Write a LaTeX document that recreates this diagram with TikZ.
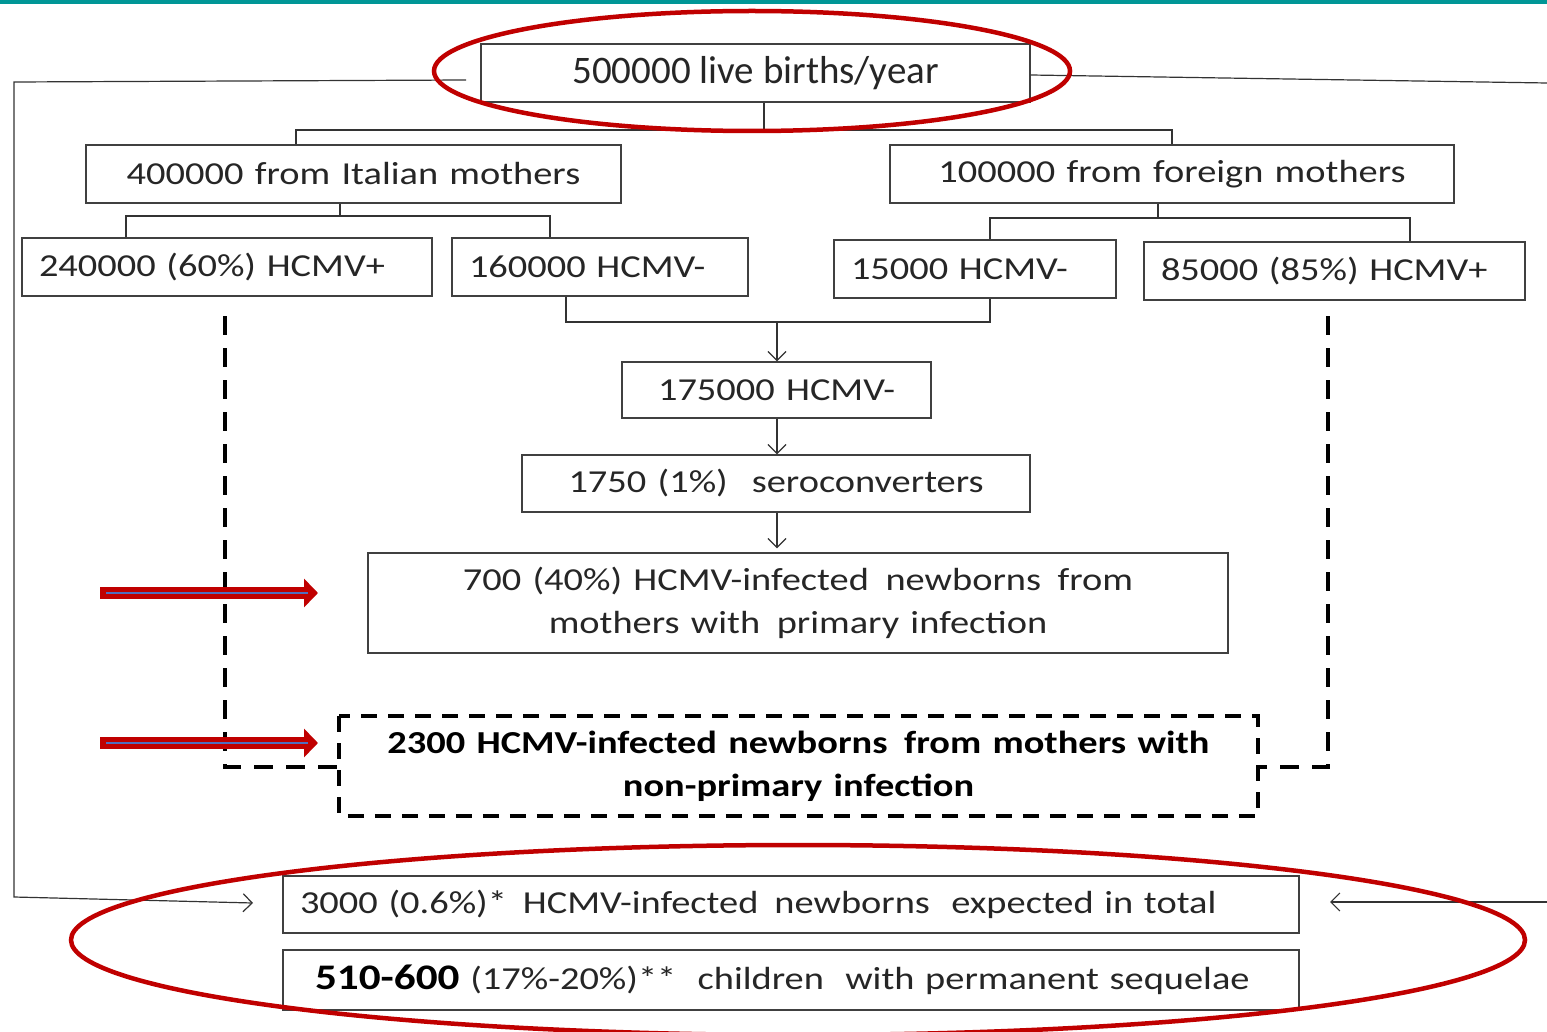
\documentclass[tikz,border=0pt]{standalone}
\usepackage{fontspec}
\setmainfont{Carlito}
\newfontfamily\wide[FakeStretch=1.2,WordSpace=1.3]{Carlito}
\usetikzlibrary{arrows.meta}
\definecolor{dkred}{RGB}{192,0,0}
\definecolor{teal2}{RGB}{0,150,150}
\definecolor{txt}{RGB}{38,38,38}
\definecolor{bluel}{RGB}{80,110,190}
\tikzset{
  box/.style={draw=black!75, line width=1.4pt, inner sep=0pt, text=txt,
    font=\wide\fontsize{32}{43}\selectfont},
  lbox/.style={box, inner xsep=17pt, text width=#1, align=left},
  conn/.style={draw=black!80, line width=1.2pt},
  arr/.style={conn, -{Straight Barb[length=9pt,width=18pt,line width=1.2pt]}},
  dashline/.style={draw=black, line width=4pt, dash pattern=on 19pt off 13pt},
  redell/.style={draw=dkred, line width=4.5pt},
  redarrow/.style={draw=dkred, line width=12pt, -{Triangle[length=14pt,width=28pt]}},
}
\begin{document}
\begin{tikzpicture}[x=1pt,y=-1pt]
\clip (0,0) rectangle (1547,1032);
\useasboundingbox (0,0) rectangle (1547,1032);
\fill[white] (0,0) rectangle (1547,1032);
\fill[teal2] (0,0) rectangle (1547,4);

% boxes
\node[box, minimum width=549pt, minimum height=58pt, font=\fontsize{39}{46}\selectfont] (A) at (755.5,73) {\raisebox{-2pt}{500000 live births/year}};
\node[box, minimum width=535pt, minimum height=58pt] (B) at (353.5,174) {400000 from Italian mothers};
\node[box, minimum width=564pt, minimum height=58pt] (C) at (1172,174) {100000 from foreign mothers};
\node[lbox=376pt, minimum width=410pt, minimum height=58pt] (D) at (227,267) {\mbox{240000 (60\%) HCMV+}};
\node[lbox=262pt, minimum width=296pt, minimum height=58pt] (E) at (600,267) {\mbox{160000 HCMV-}};
\node[lbox=248pt, minimum width=282pt, minimum height=58pt] (F) at (975,269) {\mbox{15000 HCMV-}};
\node[lbox=347pt, minimum width=381pt, minimum height=58pt] (G) at (1334.5,271) {\mbox{85000 (85\%) HCMV+}};
\node[box, minimum width=309pt, minimum height=56pt] (H) at (776.5,390) {175000 HCMV-};
\node[box, minimum width=508pt, minimum height=57pt] (I) at (776,483.5) {1750 (1\%)\hspace{24pt}seroconverters};
\node[box, minimum width=860pt, minimum height=100pt, align=center] (J) at (798,603) {700 (40\%) HCMV-infected\, newborns\, from\\ mothers with\, primary infection};
\node[box, draw=none, minimum width=917pt, minimum height=98pt, align=center, text=black, font=\wide\bfseries\fontsize{32}{43}\selectfont] (K) at (798.5,766) {2300 HCMV-infected newborns\, from mothers with\\non-primary infection};
\draw[dashline, dash pattern=on 16pt off 11pt] (K.north west) rectangle (K.south east);
\node[lbox=982pt, minimum width=1016pt, minimum height=57pt] (L) at (791,904.5) {\mbox{3000 (0.6\%)*\, HCMV-infected\, newborns\, \,expected in total}};
\node[lbox=952pt, inner xsep=32pt, minimum width=1016pt, minimum height=60pt] (M) at (791,980) {\mbox{{\bfseries\color{black}\fontsize{36}{40}\selectfont 510-600} (17\%-20\%)**\, \,children\, \,with permanent sequelae}};

% tree connectors
\draw[conn] (A.south -| 764,0) -- (764,130);
\draw[conn] (B.north -| 296,0) -- (296,130) -- (1172,130) -- (C.north -| 1172,0);
\draw[conn] (B.south -| 340,0) -- (340,216);
\draw[conn] (D.north -| 126,0) -- (126,216) -- (550,216) -- (E.north -| 550,0);
\draw[conn] (C.south -| 1158,0) -- (1158,218);
\draw[conn] (F.north -| 990,0) -- (990,218) -- (1410,218) -- (G.north -| 1410,0);
\draw[conn] (E.south -| 566,0) -- (566,322) -- (990,322) -- (F.south -| 990,0);
\coordinate (m1) at (777,322);
\draw[arr] (m1) -- (H.north -| 777,0);
\draw[arr] (H.south -| 777,0) -- (I.north -| 777,0);
\draw[arr] (I.south -| 777,0) -- ([yshift=4pt]J.north -| 777,0);

% side connectors
\coordinate (lstart) at (466,80);
\coordinate (lend) at (253,903);
\draw[arr] (lstart) -- (14,82) -- (14,897) -- (lend);
\coordinate (rstart) at (1547,83);
\draw[conn] (A.east |- 0,75) -- (rstart);
\coordinate (rin) at (1547,902);
\coordinate (rend) at (1330,902);
\draw[arr] (rin) -- (rend);

% dashed connectors
\draw[dashline] (225,316) -- (225,767) -- (K.west |- 0,767);
\draw[dashline] (1328,316) -- (1328,767) -- (K.east |- 0,767);

% red arrows
\coordinate (ra1s) at (100,593); \coordinate (ra1e) at (318,593);
\coordinate (ra2s) at (100,743); \coordinate (ra2e) at (318,743);
\draw[redarrow] (ra1s) -- (ra1e);
\draw[redarrow] (ra2s) -- (ra2e);
\draw[bluel, line width=2pt] (106,593) -- (308,593);
\draw[bluel, line width=2pt] (106,743) -- (308,743);

% red ellipses
\draw[redell] (752,71) ellipse [x radius=318pt, y radius=60pt];
\draw[redell] (798,940) ellipse [x radius=727pt, y radius=95pt];
\end{tikzpicture}
\end{document}
